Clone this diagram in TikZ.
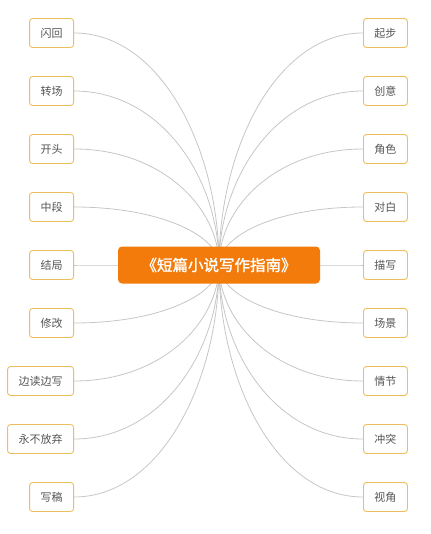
\documentclass[tikz,border=0pt]{standalone}
\usepackage{fontspec}
\usepackage{xcolor}
\usepackage{tikz}
\usetikzlibrary{calc, positioning}
\newfontfamily\cjk{Noto Sans CJK SC}
\newfontfamily\cjkbold[FakeBold=1.4]{Noto Sans CJK SC}
\definecolor{rootorange}{HTML}{F27B0C}
\definecolor{leafborder}{HTML}{EDBE60}
\definecolor{leaftext}{HTML}{555555}
\definecolor{linkgray}{HTML}{C6C6C6}
\tikzstyle{leaf}=[rectangle, draw=leafborder, fill=white, rounded corners=3pt, line width=0.9pt, minimum height=29pt, inner xsep=11pt, text=leaftext, font=\cjk\fontsize{11pt}{12pt}\selectfont]
\tikzstyle{topic}=[rectangle, fill=rootorange, rounded corners=4pt, minimum width=202pt, minimum height=37pt, text=white, font=\cjkbold\fontsize{15.5pt}{17pt}\selectfont]
\tikzstyle{link}=[draw=linkgray, line width=0.8pt]

\begin{document}
\begin{tikzpicture}[x=1pt, y=-1pt]

\useasboundingbox (0,0) rectangle (430,534);

% Left branches
\foreach \lbl [count=\i] in {闪回, 转场, 开头, 中段, 结局, 修改, 边读边写, 永不放弃, 写稿} {
    \node[leaf, anchor=east] (l\i) at (74, {33+58*(\i-1)}) {\lbl};
}

% Right branches
\foreach \lbl [count=\i] in {起步, 创意, 角色, 对白, 描写, 场景, 情节, 冲突, 视角} {
    \node[leaf, anchor=west] (r\i) at (363, {33+58*(\i-1)}) {\lbl};
}

\coordinate (hub) at (219, 265);

\foreach \i in {1,...,9} {
    \draw[link] (l\i.east) .. controls +(87,0) and +(0,{29*(\i-5)}) .. (hub); % left -> hub
    \draw[link] (r\i.west) .. controls +(-87,0) and +(0,{29*(\i-5)}) .. (hub); % right -> hub
}

\node[topic] (root) at (hub) {《短篇小说写作指南》};

\end{tikzpicture}
\end{document}
